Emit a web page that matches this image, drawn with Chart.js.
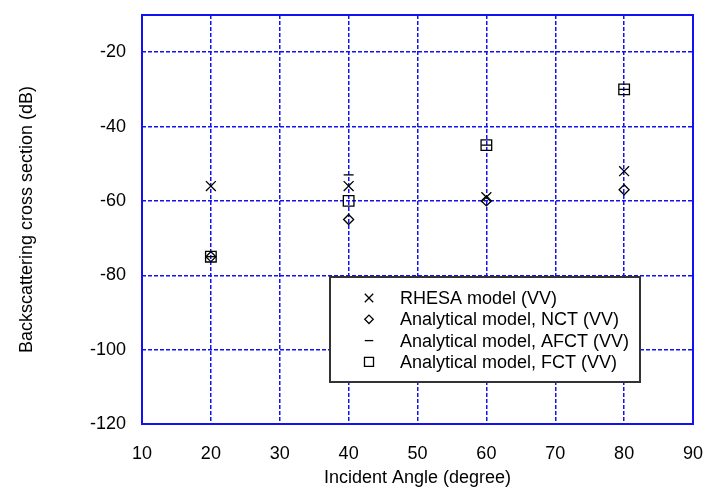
<!DOCTYPE html>
<html>
<head>
<meta charset="utf-8">
<script src="https://cdn.jsdelivr.net/npm/chart.js@4/dist/chart.umd.min.js"></script>
<style>
  html, body { margin: 0; padding: 0; background: #fff; }
</style>
</head>
<body>
<canvas id="grafico" width="703" height="494"></canvas>
<script>
// datos
const angulos = [20, 40, 60, 80];
const rhesaVV = [-56, -56, -59, -52];
const nctVV = [-75, -65, -60, -57];
const afctVV = [-75, -53, -45, -30];
const fctVV = [-75, -60, -45, -30];
const nombres = ["RHESA model (VV)", "Analytical model, NCT (VV)", "Analytical model, AFCT (VV)", "Analytical model, FCT (VV)"];
const xTicks = [10, 20, 30, 40, 50, 60, 70, 80, 90];
const yTicks = [-120, -100, -80, -60, -40, -20];

const fuente = "'Liberation Sans', Arial, sans-serif";
const azul = "#1212f0";

const puntos = (vals) => angulos.map((a, i) => ({ x: a, y: vals[i] }));

function serie(label, vals, estilo, radio) {
  return {
    label: label,
    data: puntos(vals),
    pointStyle: estilo,
    pointRadius: radio,
    pointBorderColor: "#000",
    pointBackgroundColor: "rgba(0,0,0,0)",
    pointBorderWidth: 1.3,
    showLine: false,
  };
}

// marco azul alrededor del area del grafico
const marco = {
  id: "marco",
  afterDatasetsDraw(chart) {
    const { left, top, right, bottom } = chart.chartArea;
    const ctx = chart.ctx;
    ctx.save();
    ctx.strokeStyle = azul;
    ctx.lineWidth = 2;
    ctx.strokeRect(left, top, right - left, bottom - top);
    ctx.restore();
  },
};

// leyenda dentro del grafico, con borde gris
const leyenda = {
  id: "leyenda",
  afterDraw(chart) {
    const ctx = chart.ctx;
    const x0 = 330, y0 = 277, w = 310, h = 105;
    ctx.save();
    ctx.fillStyle = "#fff";
    ctx.fillRect(x0, y0, w, h);
    ctx.strokeStyle = "#333";
    ctx.lineWidth = 2;
    ctx.strokeRect(x0, y0, w, h);
    chart.data.datasets.forEach((ds, i) => {
      const cy = y0 + 21 + i * 21.3;
      ctx.strokeStyle = "#000";
      ctx.fillStyle = "rgba(0,0,0,0)";
      ctx.lineWidth = 1.3;
      Chart.helpers.drawPoint(ctx, {
        pointStyle: ds.pointStyle,
        radius: ds.pointRadius * 0.85,
        borderWidth: 1.3,
        rotation: 0,
      }, x0 + 39, cy);
      ctx.fillStyle = "#000";
      ctx.font = "18px " + fuente;
      ctx.textAlign = "left";
      ctx.textBaseline = "middle";
      ctx.fillText(ds.label, x0 + 70, cy + 1);
    });
    ctx.restore();
  },
};

new Chart(document.getElementById("grafico"), {
  type: "scatter",
  data: {
    datasets: [
      serie(nombres[0], rhesaVV, "crossRot", 7),
      serie(nombres[1], nctVV, "rectRot", 5),
      serie(nombres[2], afctVV, "line", 5),
      serie(nombres[3], fctVV, "rect", 7.5),
    ],
  },
  options: {
    responsive: false,
    animation: false,
    events: [],
    layout: { padding: { top: 15, right: 10, left: 0, bottom: 0 } },
    plugins: {
      legend: { display: false },
      tooltip: { enabled: false },
    },
    scales: {
      x: {
        type: "linear",
        min: 10,
        max: 90,
        afterBuildTicks: (s) => { s.ticks = xTicks.map((v) => ({ value: v })); },
        afterFit: (s) => { s.height = 70; s.paddingLeft = 0; s.paddingRight = 0; },
        grid: { color: azul, lineWidth: 1.5, drawTicks: false },
        border: { display: false, dash: [4, 2] },
        ticks: { color: "#000", padding: 19, font: { family: fuente, size: 18 } },
        title: {
          display: true,
          text: "Incident Angle (degree)",
          color: "#000",
          font: { family: fuente, size: 18 },
          padding: { top: 0, bottom: 5 },
        },
      },
      y: {
        type: "linear",
        min: -120,
        max: -10,
        afterBuildTicks: (s) => { s.ticks = yTicks.map((v) => ({ value: v })); },
        afterFit: (s) => { s.width = 142; s.paddingTop = 0; s.paddingBottom = 0; },
        grid: { color: azul, lineWidth: 1.5, drawTicks: false },
        border: { display: false, dash: [4, 2] },
        ticks: { color: "#000", padding: 16, font: { family: fuente, size: 18 } },
        title: {
          display: true,
          text: "Backscattering cross section (dB)",
          color: "#000",
          font: { family: fuente, size: 18 },
          padding: { top: 16, bottom: 0 },
        },
      },
    },
  },
  plugins: [marco, leyenda],
});
</script>
</body>
</html>
